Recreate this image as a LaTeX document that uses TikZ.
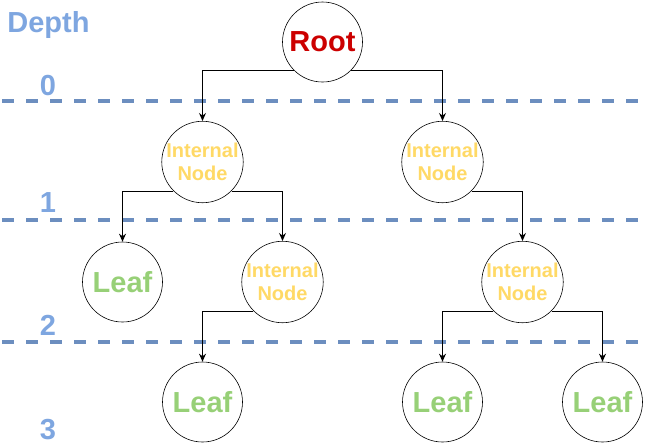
\documentclass[tikz,border=0pt]{standalone}
\usepackage{fontspec}
\setmainfont{Liberation Sans}
\usepackage{tikz}
\usetikzlibrary{arrows.meta}
\definecolor{rootred}{HTML}{CC0000}
\definecolor{leafgreen}{HTML}{97D077}
\definecolor{innery}{HTML}{FFD966}
\definecolor{depthblue}{HTML}{7EA6E0}
\definecolor{lineblue}{HTML}{6C8EBF}
\tikzstyle{treenode}=[circle,draw=black,line width=0.6pt,minimum size=80pt,inner sep=0pt]
\tikzstyle{rootnode}=[treenode,text=rootred,font=\bfseries\fontsize{29}{29}\selectfont]
\tikzstyle{leafnode}=[treenode,text=leafgreen,font=\bfseries\fontsize{29}{29}\selectfont]
\tikzstyle{innernode}=[treenode,text=innery,align=center,font=\bfseries\fontsize{20}{23}\selectfont]
\tikzstyle{depthlabel}=[text=depthblue,anchor=base,inner sep=0pt,font=\bfseries\fontsize{29}{29}\selectfont]
\tikzstyle{level}=[draw=lineblue,line width=3.3pt,dash pattern=on 12pt off 12pt]
\tikzstyle{edge}=[line width=0.9pt,-{Stealth[length=8pt,width=7pt]}]

\begin{document}
\begin{tikzpicture}[x=1pt,y=-1pt]
          \useasboundingbox (0,0) rectangle (645,445);
          % depth lines
          \draw[level] (2,101) -- (645,101);
          \draw[level] (2,220) -- (645,220);
          \draw[level] (2,342) -- (645,342);
          \node[depthlabel] (dep) at (48.5,32) {Depth};
          \node[depthlabel] (d0) at (48,95) {0};
          \node[depthlabel] (d1) at (48,212) {1};
          \node[depthlabel] (d2) at (48,335) {2};
          \node[depthlabel] (d3) at (48,439) {3};
          % tree
          \node[rootnode] (root) at (322.5,42) {Root};
          \node[innernode] (n1) at (202.5,162) {Internal\\Node};
          \node[innernode] (n2) at (442.5,162) {Internal\\Node};
          \node[leafnode] (l1) at (122.5,282) {Leaf};
          \node[innernode] (n3) at (282.5,282) {Internal\\Node};
          \node[innernode] (n4) at (522.5,282) {Internal\\Node};
          \node[leafnode] (l2) at (202.5,402) {Leaf};
          \node[leafnode] (l3) at (442.5,402) {Leaf};
          \node[leafnode] (l4) at (602.5,402) {Leaf};
          \draw[edge] (root.south west) -| (n1.north);
          \draw[edge] (root.south east) -| (n2.north);
          \draw[edge] (n1.south west) -| (l1.north);
          \draw[edge] (n1.south east) -| (n3.north);
          \draw[edge] (n2.south east) -| (n4.north);
          \draw[edge] (n3.south west) -| (l2.north);
          \draw[edge] (n4.south west) -| (l3.north);
          \draw[edge] (n4.south east) -| (l4.north);
        \end{tikzpicture}
\end{document}
